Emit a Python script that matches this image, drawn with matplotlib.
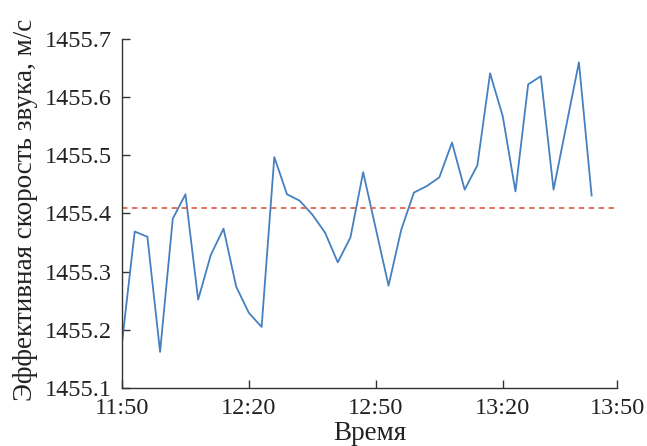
import matplotlib
matplotlib.use("Agg")
import matplotlib.pyplot as plt

# measurement times (minutes after 11:50) and effective sound speed, m/s
minutes = [0, 3, 6, 9, 12, 15, 18, 21, 24, 27, 30, 33, 36, 39, 42, 45, 48,
           51, 54, 57, 63, 66, 69, 72, 75, 78, 81, 84, 87, 90, 93, 96, 99,
           102, 108, 111]
speed = [1455.178, 1455.369, 1455.360, 1455.162, 1455.391, 1455.433,
         1455.252, 1455.329, 1455.374, 1455.274, 1455.229, 1455.205,
         1455.497, 1455.433, 1455.422, 1455.398, 1455.367, 1455.316,
         1455.359, 1455.471, 1455.276, 1455.372, 1455.436, 1455.447,
         1455.462, 1455.522, 1455.441, 1455.483, 1455.641, 1455.567,
         1455.438, 1455.622, 1455.636, 1455.441, 1455.660, 1455.431]
mean_speed = 1455.41

xtick_pos = [0, 30, 60, 90, 117]
xtick_lab = ["11:50", "12:20", "12:50", "13:20", "13:50"]
yticks = [1455.1, 1455.2, 1455.3, 1455.4, 1455.5, 1455.6, 1455.7]

plt.rcParams["font.family"] = ["Liberation Serif", "DejaVu Serif"]

fig = plt.figure(figsize=(6.47, 4.46), dpi=100)
ax = fig.add_axes([122 / 647, 58 / 446, 495 / 647, 349 / 446])

ax.plot(minutes, speed, color="#4580c0", lw=1.3)
ax.axhline(mean_speed, color="#dd6650", lw=1.3, ls=(0, (3, 2.5)))

ax.set_xlim(0, 117)
ax.set_ylim(1455.1, 1455.7)
ax.set_xticks(xtick_pos)
ax.set_xticklabels(xtick_lab)
ax.set_yticks(yticks)
ax.set_yticklabels([f"{v:.1f}" for v in yticks])

for s in ("top", "right"):
    ax.spines[s].set_visible(False)
for s in ("left", "bottom"):
    ax.spines[s].set_color("#333333")
    ax.spines[s].set_linewidth(1.0)

ax.tick_params(direction="in", length=6, width=1, color="#333333",
               labelsize=17.5, labelcolor="#222222")
ax.tick_params(axis="x", pad=7)
ax.tick_params(axis="y", pad=7)

ax.set_xlabel("Время", fontsize=19.5, color="#222222", labelpad=1.5)
ax.set_ylabel("Эффективная скорость звука, м/с", fontsize=19.5,
              color="#222222")
ax.yaxis.set_label_coords(-0.17, 0.51)

fig.savefig("out.png", dpi=100)
